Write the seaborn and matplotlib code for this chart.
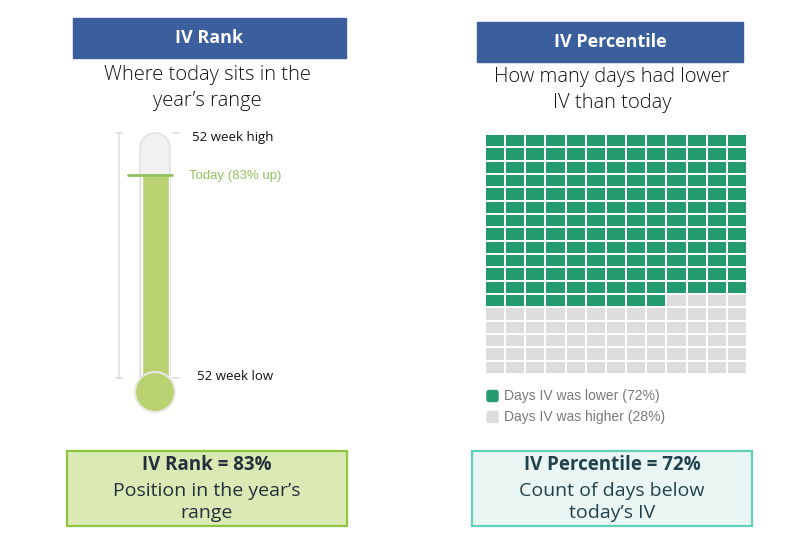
import numpy as np
import matplotlib
matplotlib.use("Agg")
import matplotlib.pyplot as plt
from matplotlib.colors import ListedColormap
from matplotlib.patches import Rectangle, Ellipse, Arc, FancyBboxPatch
import seaborn as sns

# --- data ---
iv_rank = 83            # % of the 52 week range
range_low, range_high = 0, 100
iv_percentile = 72      # % of days with lower IV
grid_rows, grid_cols = 18, 13
days_lower = 165        # green cells counted in the waffle
panel_titles = ["IV Rank", "IV Percentile"]
panel_subtitles = ["Where today sits in the\nyear’s range", "How many days had lower\nIV than today"]
legend_labels = [f"Days IV was lower ({iv_percentile}%)", f"Days IV was higher ({100 - iv_percentile}%)"]

W, H = 800, 546
BLUE = "#3b5f9d"
THERMO_GREEN = "#b9d170"
TODAY_GREEN = "#92c25e"
WAFFLE_GREEN = "#239b6e"
WAFFLE_GRAY = "#dddddd"
TUBE_FC, TUBE_EC = "#f1f1f1", "#e2e2e2"
FONT = ["Open Sans", "DejaVu Sans"]
FONT2 = ["Liberation Sans", "DejaVu Sans"]

sns.set_theme(style="white")
plt.rcParams["font.family"] = FONT

fig = plt.figure(figsize=(W / 100, H / 100), dpi=100)


def px_rect(x0, y0, x1, y1):
    return [x0 / W, 1 - y1 / H, (x1 - x0) / W, (y1 - y0) / H]


# overlay axes in pixel units for boxes and text
ov = fig.add_axes([0, 0, 1, 1])
ov.set_xlim(0, W)
ov.set_ylim(H, 0)
ov.axis("off")

# header boxes
for (x0, y0, x1, y1), title in zip([(73, 18, 346, 58), (477, 22, 743, 62)], panel_titles):
    ov.add_patch(Rectangle((x0, y0), x1 - x0, y1 - y0, color=BLUE, zorder=1))
    ov.text((x0 + x1) / 2, (y0 + y1) / 2, title, color="white", fontsize=13,
            fontweight="bold", ha="center", va="center", zorder=2)

ov.text(207, 88, panel_subtitles[0], fontsize=14.5, ha="center", va="center",
        color="#111111", linespacing=1.4, fontweight="light")
ov.text(612, 90, panel_subtitles[1], fontsize=14.5, ha="center", va="center",
        color="#111111", linespacing=1.35, fontweight="light")

# --- thermometer (IV rank) ---
px_per_pct = (378 - 133) / (range_high - range_low)
tx0, tx1, ty0, ty1 = 95, 215, 110, 430
ax_t = fig.add_axes(px_rect(tx0, ty0, tx1, ty1))
cap_h = 30 / px_per_pct
tube_top = range_high - cap_h / 2
# glass tube: body, rounded cap, outline
ax_t.add_patch(Rectangle((-0.5, range_low - 5), 1.0, tube_top - range_low + 5, facecolor=TUBE_FC,
                         edgecolor="none", zorder=0))
ax_t.add_patch(Ellipse((0, tube_top), 1.0, cap_h, facecolor=TUBE_FC, edgecolor="none", zorder=0))
ax_t.add_patch(Arc((0, tube_top), 1.0, cap_h, theta1=0, theta2=180, color=TUBE_EC, lw=1.2, zorder=1))
for xs in (-0.5, 0.5):
    ax_t.plot([xs, xs], [range_low - 5, tube_top], color=TUBE_EC, lw=1.2, zorder=1)
sns.barplot(x=["today"], y=[iv_rank], color=THERMO_GREEN, width=0.9, saturation=1,
            ax=ax_t, zorder=2)
bulb_c = range_low - (392 - 378) / px_per_pct
ax_t.add_patch(Ellipse((0, bulb_c), 40 / 30, 40 / px_per_pct, facecolor=THERMO_GREEN,
                       edgecolor="#e8e8e8", linewidth=1.5, zorder=3))
ax_t.plot([-0.9, 0.57], [iv_rank, iv_rank], color=TODAY_GREEN, lw=2, zorder=4)
# scale line and ticks
ax_t.plot([-1.2, -1.2], [range_low, range_high], color="#e2e2e2", lw=1.2, zorder=0)
for y in (range_low, range_high):
    ax_t.plot([-1.3, -1.1], [y, y], color="#dcdcdc", lw=1.2)
    ax_t.plot([0.6, 0.8], [y, y], color="#dcdcdc", lw=1.2)
ax_t.set_xlim(-2, 2)
ax_t.set_ylim(range_low - (ty1 - 378) / px_per_pct, range_high + (133 - ty0) / px_per_pct)
ax_t.axis("off")

ov.text(192, 138, "52 week high", fontsize=9.5, ha="left", va="center", color="#111111")
ov.text(189, 176, f"Today ({iv_rank}% up)", fontsize=9.5, ha="left", va="center",
        color=TODAY_GREEN, family=FONT2)
ov.text(197, 377, "52 week low", fontsize=9.5, ha="left", va="center", color="#111111")

# --- waffle (IV percentile) ---
cells = (np.arange(grid_rows * grid_cols) < days_lower).astype(int).reshape(grid_rows, grid_cols)
ax_w = fig.add_axes(px_rect(485, 134, 747, 374))
sns.heatmap(cells, cmap=ListedColormap([WAFFLE_GRAY, WAFFLE_GREEN]), vmin=0, vmax=1,
            cbar=False, linewidths=1.2, linecolor="white", xticklabels=False,
            yticklabels=False, ax=ax_w)

for (yc, col, lab) in zip([396, 417], [WAFFLE_GREEN, WAFFLE_GRAY], legend_labels):
    ov.add_patch(FancyBboxPatch((487, yc - 5.5), 11, 11, boxstyle="round,pad=0,rounding_size=2",
                                color=col))
    ov.text(504, yc, lab, fontsize=10, ha="left", va="center", color="#7a7a7a", family=FONT2)

# --- summary boxes ---
boxes = [
    ((67, 451, 347, 526), "#dbeab4", "#8cc63e", "#24303c",
     f"IV Rank = {iv_rank}%", "Position in the year’s\nrange"),
    ((472, 451, 752, 526), "#eaf6f3", "#5fd0b8", "#21424c",
     f"IV Percentile = {iv_percentile}%", "Count of days below\ntoday’s IV"),
]
for (x0, y0, x1, y1), fc, ec, tc, head, body in boxes:
    ov.add_patch(Rectangle((x0, y0), x1 - x0, y1 - y0, facecolor=fc, edgecolor=ec, linewidth=1.6))
    cx = (x0 + x1) / 2
    ov.text(cx, 465, head, fontsize=13.5, fontweight="bold", ha="center", va="center", color=tc)
    ov.text(cx, 502, body, fontsize=14, ha="center", va="center", color=tc, linespacing=1.3)

fig.savefig("out.png", dpi=100)
